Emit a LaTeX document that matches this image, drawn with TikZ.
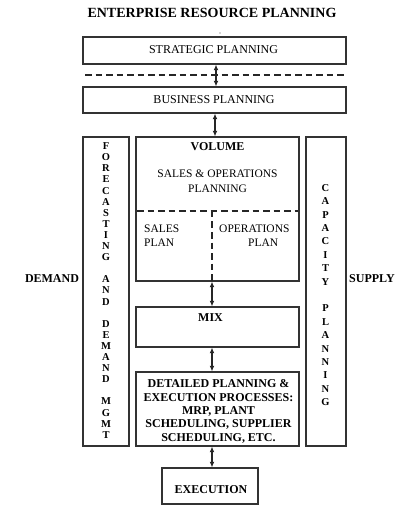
\documentclass[tikz,border=0pt]{standalone}
\usepackage{fontspec}
\setmainfont{Liberation Serif}
\usetikzlibrary{arrows.meta}
\begin{document}
\begin{tikzpicture}[x=1pt,y=-1pt,
  box/.style={draw=black!80, line width=1.1pt, inner sep=0},
  lbl/.style={font=\fontsize{12}{13.5}\selectfont, align=center, inner sep=0},
  slbl/.style={font=\fontsize{11.5}{14}\selectfont, inner sep=0},
  blbl/.style={font=\bfseries\fontsize{12}{13.3}\selectfont, align=center, inner sep=0},
  dbl/.style={{Latex[length=5.5pt,width=4.8pt]}-{Latex[length=5.5pt,width=4.8pt]}, line width=1.2pt, draw=black!85},
  dashline/.style={dash pattern=on 6.5pt off 4pt, line width=1.6pt, draw=black!85},
  vert/.style={font=\bfseries\fontsize{10.5}{11.1}\selectfont, align=center, inner sep=0}
]
\useasboundingbox (0,0) rectangle (416,518);

% title
\node[font=\bfseries\fontsize{14}{16}\selectfont, inner sep=0] (title) at (212,12.5) {ENTERPRISE RESOURCE PLANNING};
\fill[black!70] (220,33) circle (0.7pt);

% top boxes
\node[box, minimum width=263pt, minimum height=27pt] (strat) at (214.5,50.5) {};
\node[lbl] (strattxt) at (213.5,49.5) {STRATEGIC PLANNING};
\node[box, minimum width=263pt, minimum height=26pt] (bus) at (214.5,100) {};
\node[lbl] (bustxt) at (214,99.5) {BUSINESS PLANNING};
\draw[dashline] (85,75) -- (346,75);

% side boxes
\node[box, minimum width=46pt, minimum height=309pt] (fore) at (106,291.5) {};
\node[vert] (foretxt) at (106,290.5) {F\\O\\R\\E\\C\\A\\S\\T\\I\\N\\G\\~\\A\\N\\D\\~\\D\\E\\M\\A\\N\\D\\~\\M\\G\\M\\T};
\node[box, minimum width=40pt, minimum height=309pt] (cap) at (326,291.5) {};
\node[vert, font=\bfseries\fontsize{10.5}{13.4}\selectfont] (captxt) at (325.5,295) {C\\A\\P\\A\\C\\I\\T\\Y\\~\\P\\L\\A\\N\\N\\I\\N\\G};

\node[blbl] (demand) at (52,279) {DEMAND};
\node[blbl] (supply) at (372,279) {SUPPLY};

% volume
\node[box, minimum width=163pt, minimum height=144pt] (vol) at (217.5,209) {};
\node[blbl] (voltxt) at (217.5,147) {VOLUME};
\node[slbl, align=center, font=\fontsize{11.5}{15.5}\selectfont] (soptxt) at (217.5,181) {SALES \& OPERATIONS\\PLANNING};
\node[slbl, align=left, anchor=west] (salestxt) at (144,236) {SALES\\PLAN};
\node[slbl, align=left, anchor=west] (opstxt) at (219,236) {OPERATIONS\\\hspace{29pt}PLAN};
\draw[dashline] (137,211) -- (298,211);
\draw[dashline] (212,211) -- (212,281);

% mix
\node[box, minimum width=163pt, minimum height=40pt] (mix) at (217.5,327) {};
\node[blbl] (mixtxt) at (210.5,318) {MIX};

% detailed
\node[box, minimum width=163pt, minimum height=74pt] (det) at (217.5,409) {};
\node[blbl] (dettxt) at (218.5,411.5) {DETAILED PLANNING \&\\EXECUTION PROCESSES:\\MRP, PLANT\\SCHEDULING, SUPPLIER\\SCHEDULING, ETC.};

% execution
\node[box, minimum width=96pt, minimum height=36pt] (exec) at (210,486) {};
\node[blbl] (exectxt) at (211,490) {EXECUTION};

% arrows
\draw[dbl] ([xshift=1.5pt]strat.south) -- ([xshift=1.5pt]bus.north);
\draw[dbl] ([xshift=0.5pt]bus.south) -- ([xshift=-2.5pt]vol.north);
\draw[dbl] ([xshift=-5.5pt]vol.south) -- ([xshift=-5.5pt]mix.north);
\draw[dbl] ([xshift=-5.5pt]mix.south) -- ([xshift=-5.5pt]det.north);
\draw[dbl] ([xshift=-5.5pt]det.south) -- ([xshift=2pt]exec.north);
\end{tikzpicture}
\end{document}
